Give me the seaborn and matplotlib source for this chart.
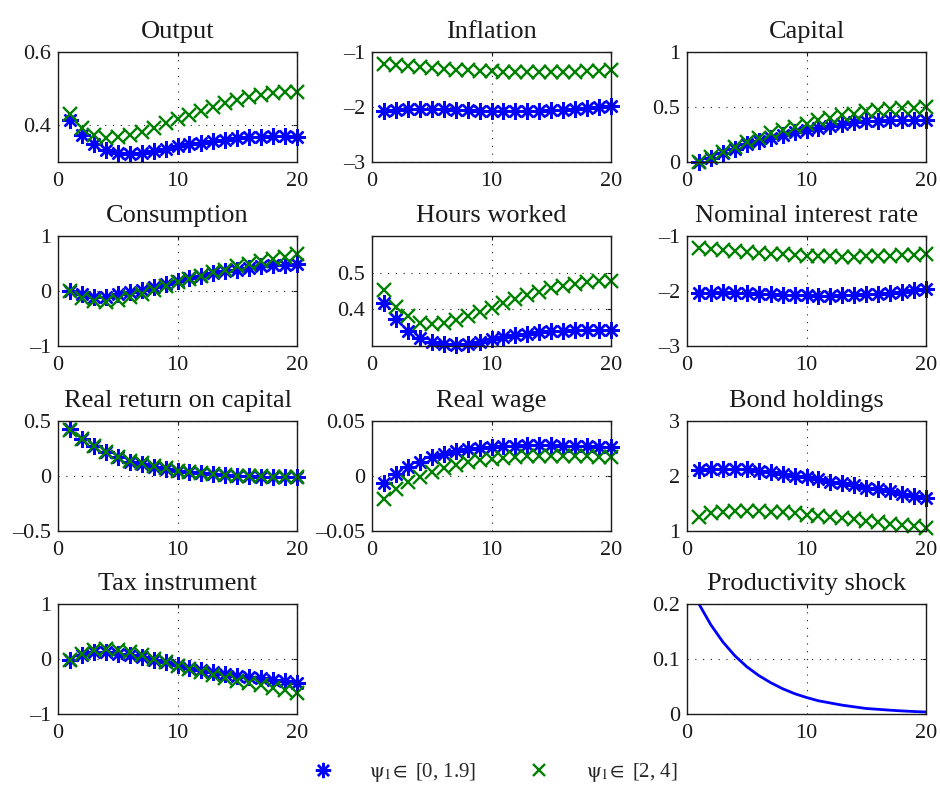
import numpy as np
import pandas as pd
import matplotlib
matplotlib.use("Agg")
import matplotlib.pyplot as plt
import seaborn as sns
from matplotlib.lines import Line2D

sns.set_theme(style="white")
plt.rcParams['font.family'] = ['Liberation Serif', 'DejaVu Serif']
plt.rcParams['mathtext.fontset'] = 'stix'

periods = list(range(1, 21))

titles = ["Output", "Inflation", "Capital", "Consumption", "Hours worked",
          "Nominal interest rate", "Real return on capital", "Real wage",
          "Bond holdings", "Tax instrument"]

output_low = [0.414, 0.373, 0.348, 0.332, 0.325, 0.323, 0.325, 0.329, 0.335, 0.343,
              0.348, 0.353, 0.357, 0.361, 0.365, 0.367, 0.369, 0.370, 0.370, 0.369]
output_high = [0.432, 0.393, 0.375, 0.365, 0.368, 0.373, 0.382, 0.394, 0.405, 0.416,
               0.427, 0.438, 0.450, 0.461, 0.470, 0.477, 0.484, 0.488, 0.492, 0.492]

inflation_low = [-2.08, -2.05, -2.03, -2.03, -2.03, -2.04, -2.05, -2.06, -2.07, -2.08,
                 -2.08, -2.08, -2.08, -2.07, -2.06, -2.05, -2.04, -2.02, -2.00, -1.98]
inflation_high = [-1.22, -1.23, -1.25, -1.27, -1.29, -1.30, -1.32, -1.33, -1.34, -1.35,
                  -1.36, -1.36, -1.37, -1.37, -1.37, -1.36, -1.36, -1.35, -1.34, -1.33]

capital_low = [0.0, 0.04, 0.08, 0.12, 0.16, 0.19, 0.22, 0.25, 0.27, 0.29,
               0.31, 0.33, 0.35, 0.36, 0.37, 0.375, 0.38, 0.385, 0.385, 0.385]
capital_high = [0.0, 0.05, 0.09, 0.14, 0.18, 0.22, 0.26, 0.29, 0.32, 0.35,
                0.38, 0.40, 0.43, 0.44, 0.46, 0.47, 0.48, 0.49, 0.495, 0.50]

consumption_low = [0.0, -0.06, -0.10, -0.10, -0.06, -0.02, 0.02, 0.07, 0.12, 0.18,
                   0.24, 0.28, 0.33, 0.36, 0.39, 0.42, 0.45, 0.47, 0.48, 0.50]
consumption_high = [0.0, -0.12, -0.19, -0.20, -0.16, -0.11, -0.05, 0.02, 0.09, 0.16,
                    0.22, 0.28, 0.34, 0.39, 0.45, 0.50, 0.54, 0.58, 0.62, 0.67]

hours_low = [0.418, 0.374, 0.340, 0.321, 0.310, 0.305, 0.304, 0.306, 0.312, 0.318,
             0.324, 0.329, 0.333, 0.337, 0.340, 0.342, 0.344, 0.345, 0.345, 0.345]
hours_high = [0.452, 0.406, 0.381, 0.364, 0.361, 0.362, 0.372, 0.382, 0.392, 0.405,
              0.416, 0.427, 0.438, 0.448, 0.457, 0.464, 0.470, 0.474, 0.477, 0.478]

nominal_low = [-2.04, -2.03, -2.02, -2.03, -2.04, -2.05, -2.06, -2.07, -2.08, -2.08,
               -2.09, -2.09, -2.08, -2.07, -2.06, -2.05, -2.03, -2.01, -1.99, -1.96]
nominal_high = [-1.21, -1.23, -1.25, -1.27, -1.29, -1.30, -1.32, -1.33, -1.35, -1.36,
                -1.37, -1.37, -1.38, -1.38, -1.37, -1.37, -1.36, -1.35, -1.34, -1.32]

rrk_low = [0.43, 0.34, 0.27, 0.22, 0.17, 0.13, 0.11, 0.085, 0.065, 0.05,
           0.035, 0.025, 0.015, 0.01, 0.003, 0.0, -0.005, -0.008, -0.01, -0.01]
rrk_high = [0.42, 0.34, 0.27, 0.22, 0.175, 0.14, 0.115, 0.09, 0.07, 0.05,
            0.035, 0.025, 0.015, 0.01, 0.003, 0.0, -0.004, -0.007, -0.009, -0.01]

wage_low = [-0.0067, 0.002, 0.008, 0.013, 0.017, 0.020, 0.0226, 0.0244, 0.0256, 0.0268,
            0.0274, 0.0277, 0.028, 0.028, 0.028, 0.0277, 0.0274, 0.0271, 0.0268, 0.0265]
wage_high = [-0.021, -0.012, -0.0058, -0.0006, 0.004, 0.0073, 0.010, 0.0125, 0.0143, 0.0159,
             0.0168, 0.0177, 0.0183, 0.0186, 0.0186, 0.0186, 0.0183, 0.0180, 0.0177, 0.0170]

bond_low = [2.11, 2.13, 2.13, 2.13, 2.12, 2.10, 2.07, 2.04, 2.00, 1.98,
            1.94, 1.90, 1.87, 1.83, 1.79, 1.76, 1.72, 1.68, 1.64, 1.60]
bond_high = [1.26, 1.32, 1.34, 1.36, 1.37, 1.36, 1.35, 1.34, 1.32, 1.30,
             1.28, 1.26, 1.23, 1.21, 1.18, 1.16, 1.13, 1.11, 1.09, 1.06]

tax_low = [-0.02, 0.07, 0.12, 0.12, 0.10, 0.07, 0.03, -0.02, -0.06, -0.11,
           -0.16, -0.20, -0.24, -0.27, -0.30, -0.33, -0.35, -0.38, -0.40, -0.43]
tax_high = [-0.01, 0.10, 0.16, 0.18, 0.16, 0.12, 0.07, 0.0, -0.05, -0.12,
            -0.18, -0.24, -0.29, -0.35, -0.40, -0.44, -0.48, -0.52, -0.56, -0.61]

shock = [0.2, 0.162, 0.131, 0.106, 0.086, 0.070, 0.057, 0.046, 0.037, 0.030,
         0.024, 0.020, 0.016, 0.013, 0.010, 0.0085, 0.0069, 0.0056, 0.0045, 0.0036]

low_series = [output_low, inflation_low, capital_low, consumption_low, hours_low,
              nominal_low, rrk_low, wage_low, bond_low, tax_low]
high_series = [output_high, inflation_high, capital_high, consumption_high, hours_high,
               nominal_high, rrk_high, wage_high, bond_high, tax_high]

ylims = [(0.3, 0.6), (-3, -1), (0, 1), (-1, 1), (0.3, 0.6), (-3, -1),
         (-0.5, 0.5), (-0.05, 0.05), (1, 3), (-1, 1)]
yticks = [[0.4, 0.6], [-3, -2, -1], [0, 0.5, 1], [-1, 0, 1], [0.4, 0.5], [-3, -2, -1],
          [-0.5, 0, 0.5], [-0.05, 0, 0.05], [1, 2, 3], [-1, 0, 1]]
yticklabels = [["0.4", "0.6"], ["\u20133", "\u20132", "\u20131"], ["0", "0.5", "1"],
               ["\u20131", "0", "1"], ["0.4", "0.5"], ["\u20133", "\u20132", "\u20131"],
               ["\u20130.5", "0", "0.5"], ["\u20130.05", "0", "0.05"], ["1", "2", "3"],
               ["\u20131", "0", "1"]]
legend_labels = [r"$\mathrm{\psi}_1\!\in$ [0, 1.9]", r"$\mathrm{\psi}_1\!\in$ [2, 4]"]

W, H = 940, 799
fig = plt.figure(figsize=(W / 100, H / 100), dpi=100)

col_left = [58, 372, 687]
row_top = [52, 236, 421, 604]
aw, ah = 239, 110

def make_ax(r, c):
    return fig.add_axes([col_left[c] / W, 1 - (row_top[r] + ah) / H, aw / W, ah / H])

def style_ax(ax, title, ylim, yt, ytl):
    ax.set_xlim(0, 20)
    ax.set_ylim(*ylim)
    ax.set_xticks([0, 10, 20])
    ax.set_xticklabels(["0", "10", "20"])
    ax.set_yticks(yt)
    ax.set_yticklabels(ytl)
    ax.grid(True, linestyle=(0, (1, 6)), color='k', linewidth=0.8)
    ax.tick_params(direction='in', length=3, width=0.8, labelsize=16, colors='k',
                   top=True, right=True)
    ax.tick_params(axis='x', pad=7)
    ax.tick_params(axis='y', pad=5)
    for s in ax.spines.values():
        s.set_color('k')
        s.set_linewidth(1.0)
        s.set_visible(True)
    ax.set_title(title, fontsize=19, pad=10, color='k')
    ax.set_xlabel("")
    ax.set_ylabel("")

blue = (0, 0, 1)
green = (0, 0.5, 0)
star = (8, 2, 0)

for i, title in enumerate(titles):
    r, c = divmod(i, 3)
    ax = make_ax(r, c)
    df = pd.DataFrame({"t": periods, "low": low_series[i], "high": high_series[i]})
    sns.lineplot(data=df, x="t", y="low", ax=ax, color=blue, marker=star, linestyle='',
                 markersize=12, markeredgewidth=1.7, markeredgecolor=blue, clip_on=False)
    sns.lineplot(data=df, x="t", y="high", ax=ax, color=green, marker='x', linestyle='',
                 markersize=9.5, markeredgewidth=1.7, markeredgecolor=green, clip_on=False)
    style_ax(ax, title, ylims[i], yticks[i], yticklabels[i])

ax = make_ax(3, 2)
sns.lineplot(x=periods, y=shock, ax=ax, color=blue, linewidth=2)
style_ax(ax, "Productivity shock", (0, 0.2), [0, 0.1, 0.2], ["0", "0.1", "0.2"])

handles = [Line2D([], [], color=blue, marker=star, linestyle='', markersize=11, markeredgewidth=1.7),
           Line2D([], [], color=green, marker='x', linestyle='', markersize=9, markeredgewidth=1.7)]
fig.legend(handles, legend_labels, loc='center', bbox_to_anchor=(0.521, 1 - 773 / H),
           ncol=2, frameon=False, fontsize=15, handlelength=2.0, handletextpad=1.25,
           columnspacing=2.0)

fig.savefig("out.png", dpi=100)
